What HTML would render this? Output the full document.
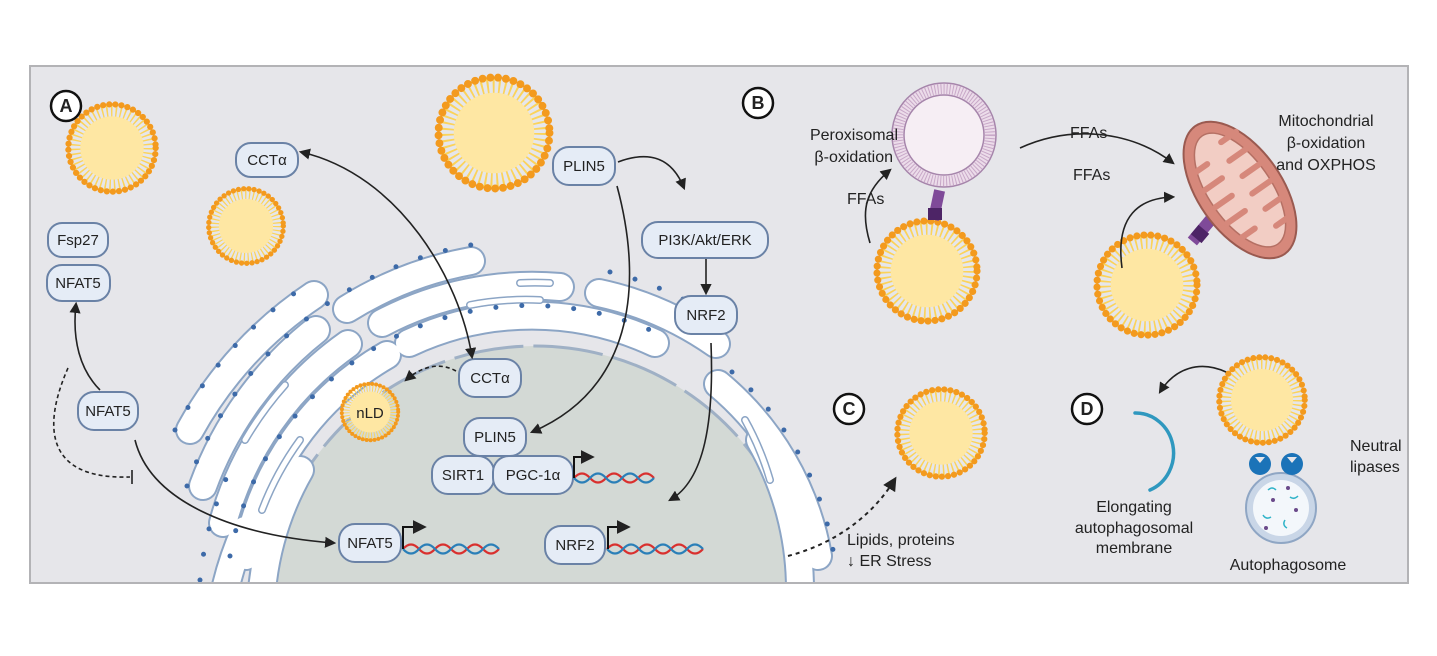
<!DOCTYPE html>
<html><head><meta charset="utf-8"><style>
html,body{margin:0;padding:0;background:#fff;width:1437px;height:656px;overflow:hidden}
svg{display:block}
text{font-family:"Liberation Sans",sans-serif;fill:#222}
</style></head><body>
<svg width="1437" height="656" viewBox="0 0 1437 656" xmlns="http://www.w3.org/2000/svg">
<defs>
<symbol id="ld" viewBox="-50 -50 100 100">
<circle r="39" fill="none" stroke="#fbd35a" stroke-width="14" stroke-dasharray="1.6 3.2"/>
<circle r="33" fill="#fee7a3"/>
<circle r="45.5" fill="none" stroke="#f39a1e" stroke-width="6.5" stroke-linecap="round" stroke-dasharray="0 6.4"/>
</symbol>
<marker id="ah" viewBox="0 0 10 10" refX="8" refY="5" markerWidth="7" markerHeight="7" orient="auto-start-reverse"><path d="M0,0 L10,5 L0,10 z" fill="#222"/></marker>
<clipPath id="pc"><rect x="31" y="67" width="1376" height="515"/></clipPath>
</defs>
<rect x="30" y="66" width="1378" height="517" fill="#e6e6ea" stroke="#b3b3b6" stroke-width="2"/>
<g clip-path="url(#pc)">
<circle cx="535" cy="618" r="272" fill="#d3d9d5" stroke="#9fb0c5" stroke-width="3" stroke-dasharray="70 10"/>
<g fill="none" stroke-linecap="round">
<g stroke="#8ca5c5" stroke-width="30">
<path d="M246,556 A290 290 0 0 1 387,355"/><path d="M409,343 A290 290 0 0 1 655,343"/><path d="M718,384 A290 290 0 0 1 818,556"/>
<path d="M223,523 A322 322 0 0 1 348,344"/><path d="M382,323 A322 322 0 0 1 560,287"/><path d="M599,293 A322 322 0 0 1 716,344"/>
<path d="M203,486 A354 354 0 0 1 316,330"/><path d="M347,309 A354 354 0 0 1 471,261"/>
<path d="M190,430 A386 386 0 0 1 314,295"/>
<path d="M262,590 A300 300 0 0 1 300,470"/><path d="M760,440 A300 300 0 0 1 800,590"/>
<path d="M225,590 A330 330 0 0 1 245,530"/>
</g>
<g stroke="#fff" stroke-width="26">
<path d="M246,556 A290 290 0 0 1 387,355"/><path d="M409,343 A290 290 0 0 1 655,343"/><path d="M718,384 A290 290 0 0 1 818,556"/>
<path d="M223,523 A322 322 0 0 1 348,344"/><path d="M382,323 A322 322 0 0 1 560,287"/><path d="M599,293 A322 322 0 0 1 716,344"/>
<path d="M203,486 A354 354 0 0 1 316,330"/><path d="M347,309 A354 354 0 0 1 471,261"/>
<path d="M190,430 A386 386 0 0 1 314,295"/>
<path d="M262,590 A300 300 0 0 1 300,470"/><path d="M760,440 A300 300 0 0 1 800,590"/>
<path d="M225,590 A330 330 0 0 1 245,530"/>
</g>
<g stroke="#8ca5c5" stroke-width="8">
<path d="M262,510 A300 300 0 0 1 300,440"/><path d="M470,305 A300 300 0 0 1 540,300"/><path d="M245,440 A340 340 0 0 1 285,385"/><path d="M745,420 A290 290 0 0 1 770,480"/><path d="M520,283 A322 322 0 0 1 550,283"/>
</g>
<g stroke="#fff" stroke-width="5">
<path d="M262,510 A300 300 0 0 1 300,440"/><path d="M470,305 A300 300 0 0 1 540,300"/><path d="M245,440 A340 340 0 0 1 285,385"/><path d="M745,420 A290 290 0 0 1 770,480"/><path d="M520,283 A322 322 0 0 1 550,283"/>
</g>
<g stroke="#3d6aa8" stroke-width="5" stroke-dasharray="0 26">
<path d="M230,556 A305 305 0 0 1 650,330"/><path d="M187,486 A370 370 0 0 1 471,245"/><path d="M175,430 A402 402 0 0 1 314,280"/>
<path d="M610,272 A338 338 0 0 1 735,332"/><path d="M732,372 A305 305 0 0 1 834,556"/><path d="M200,580 A340 340 0 0 1 230,470"/>
</g>
</g>
</g>
<use href="#ld" x="64" y="100" width="96" height="96"/>
<use href="#ld" x="205" y="185" width="82" height="82"/>
<use href="#ld" x="433" y="72" width="122" height="122"/>
<use href="#ld" x="339" y="381" width="62" height="62"/>
<use href="#ld" x="872" y="216" width="110" height="110"/>
<use href="#ld" x="1092" y="230" width="110" height="110"/>
<use href="#ld" x="893" y="385" width="96" height="96"/>
<use href="#ld" x="1215" y="353" width="94" height="94"/>
<text x="370" y="418" font-size="15" text-anchor="middle">nLD</text>
<g fill="#e5ecf6" stroke="#6a82a6" stroke-width="2">
<rect x="236" y="143" width="62" height="34" rx="15"/>
<rect x="553" y="147" width="62" height="38" rx="16"/>
<rect x="642" y="222" width="126" height="36" rx="16"/>
<rect x="675" y="296" width="62" height="38" rx="16"/>
<rect x="48" y="223" width="60" height="34" rx="14"/>
<rect x="47" y="265" width="63" height="36" rx="15"/>
<rect x="78" y="392" width="60" height="38" rx="16"/>
<rect x="459" y="359" width="62" height="38" rx="16"/>
<rect x="464" y="418" width="62" height="38" rx="16"/>
<rect x="432" y="456" width="62" height="38" rx="16"/>
<rect x="493" y="456" width="80" height="38" rx="16"/>
<rect x="339" y="524" width="62" height="38" rx="16"/>
<rect x="545" y="526" width="60" height="38" rx="16"/>
</g>
<g font-size="15" text-anchor="middle">
<text x="267" y="165">CCTα</text>
<text x="584" y="171">PLIN5</text>
<text x="705" y="245">PI3K/Akt/ERK</text>
<text x="706" y="320">NRF2</text>
<text x="78" y="245">Fsp27</text>
<text x="78" y="288">NFAT5</text>
<text x="108" y="416">NFAT5</text>
<text x="490" y="383">CCTα</text>
<text x="495" y="442">PLIN5</text>
<text x="463" y="480">SIRT1</text>
<text x="533" y="480">PGC-1α</text>
<text x="370" y="548">NFAT5</text>
<text x="575" y="550">NRF2</text>
</g>
<g fill="none" stroke-width="2.2">
<path d="M574,478 q8,-9 16,0 t16,0 t16,0 t16,0 t16,0" stroke="#d9302e"/>
<path d="M574,478 q8,9 16,0 t16,0 t16,0 t16,0 t16,0" stroke="#2a7fb8"/>
<path d="M403,549 q8,-9 16,0 t16,0 t16,0 t16,0 t16,0 t16,0" stroke="#d9302e"/>
<path d="M403,549 q8,9 16,0 t16,0 t16,0 t16,0 t16,0 t16,0" stroke="#2a7fb8"/>
<path d="M607,549 q8,-9 16,0 t16,0 t16,0 t16,0 t16,0 t16,0" stroke="#d9302e"/>
<path d="M607,549 q8,9 16,0 t16,0 t16,0 t16,0 t16,0 t16,0" stroke="#2a7fb8"/>
</g>
<g fill="none" stroke="#111" stroke-width="2" marker-end="url(#ah)">
<path d="M574,478 V457 H592"/><path d="M403,549 V527 H424"/><path d="M608,549 V527 H628"/>
</g>
<g fill="none" stroke="#222" stroke-width="1.6">
<path d="M301,152 C 400,175 460,280 472,357" marker-end="url(#ah)" marker-start="url(#ah)"/>
<path d="M618,162 C 650,150 672,158 684,188" marker-end="url(#ah)"/>
<path d="M617,186 C 645,290 630,390 532,432" marker-end="url(#ah)"/>
<path d="M706,259 L706,293" marker-end="url(#ah)"/>
<path d="M711,343 C 714,420 705,480 670,500" marker-end="url(#ah)"/>
<path d="M456,371 C 440,362 422,366 406,380" stroke-dasharray="4 3" marker-end="url(#ah)"/>
<path d="M100,390 C 80,370 72,340 76,304" marker-end="url(#ah)"/>
<path d="M135,440 C 150,500 230,535 334,543" marker-end="url(#ah)"/>
<path d="M68,368 C 45,420 40,480 130,477" stroke-dasharray="4 3"/>
<path d="M132,470 L132,484"/>
<path d="M788,556 C 830,545 870,520 895,479" stroke-dasharray="4 4" stroke-width="2" marker-end="url(#ah)"/>
<path d="M870,243 C 860,210 866,190 890,170" marker-end="url(#ah)"/>
<path d="M1020,148 C 1070,125 1130,130 1173,163" marker-end="url(#ah)"/>
<path d="M1122,268 C 1115,215 1140,198 1173,197" marker-end="url(#ah)"/>
<path d="M1226,372 C 1200,360 1175,368 1160,392" marker-end="url(#ah)"/>
</g>
<g fill="#fff" stroke="#111" stroke-width="2.5">
<circle cx="66" cy="106" r="15"/><circle cx="758" cy="103" r="15"/><circle cx="849" cy="409" r="15"/><circle cx="1087" cy="409" r="15"/>
</g>
<g font-size="18" font-weight="bold" text-anchor="middle">
<text x="66" y="112">A</text><text x="758" y="109">B</text><text x="849" y="415">C</text><text x="1087" y="415">D</text>
</g>
<rect x="931" y="190" width="11" height="30" fill="#7f4a99" transform="rotate(12 936 205)"/>
<rect x="928" y="208" width="14" height="12" fill="#4d2466"/>
<circle cx="944" cy="135" r="52" fill="#ecdcea" stroke="#a685ab" stroke-width="1.5"/>
<circle cx="944" cy="135" r="40" fill="#f6eef4" stroke="#a685ab" stroke-width="1.5"/>
<circle cx="944" cy="135" r="46" fill="none" stroke="#c8a8c8" stroke-width="10" stroke-dasharray="1 2"/>
<rect x="1196" y="215" width="12" height="30" fill="#7f4a99" transform="rotate(40 1202 230)"/>
<rect x="1193" y="228" width="14" height="12" fill="#4d2466" transform="rotate(40 1200 234)"/>
<g transform="rotate(55 1240 190)">
<ellipse cx="1240" cy="190" rx="78" ry="42" fill="#d6887b" stroke="#9a5a50" stroke-width="2"/>
<ellipse cx="1240" cy="190" rx="66" ry="31" fill="#f2cdc4" stroke="#b57064" stroke-width="1.5"/>
<g stroke="#d6887b" stroke-width="6" stroke-linecap="round">
<path d="M1190,160 v18 M1210,160 v22 M1230,160 v20 M1250,160 v22 M1270,160 v20 M1290,165 v16 M1200,220 v-18 M1220,220 v-22 M1240,220 v-20 M1260,220 v-22 M1280,218 v-18"/>
</g>
</g>
<g font-size="16">
<text x="898" y="140" text-anchor="end">Peroxisomal</text>
<text x="893" y="162" text-anchor="end">β-oxidation</text>
<text x="847" y="204">FFAs</text>
<text x="1070" y="138">FFAs</text>
<text x="1073" y="180">FFAs</text>
<text x="1326" y="126" text-anchor="middle">Mitochondrial</text>
<text x="1326" y="148" text-anchor="middle">β-oxidation</text>
<text x="1326" y="170" text-anchor="middle">and OXPHOS</text>
<text x="847" y="545">Lipids, proteins</text>
<text x="847" y="566">↓ ER Stress</text>
<text x="1134" y="512" text-anchor="middle">Elongating</text>
<text x="1134" y="533" text-anchor="middle">autophagosomal</text>
<text x="1134" y="553" text-anchor="middle">membrane</text>
<text x="1288" y="570" text-anchor="middle">Autophagosome</text>
<text x="1350" y="451">Neutral</text>
<text x="1350" y="472">lipases</text>
</g>
<path d="M1135,413 A38 40 0 0 1 1150,490" fill="none" stroke="#2f98bf" stroke-width="3.5" stroke-linecap="round"/>
<circle cx="1281" cy="508" r="35" fill="#c9d6e7" stroke="#8fa6c4" stroke-width="2"/>
<circle cx="1281" cy="508" r="28" fill="#f3f7fb"/>
<g fill="none" stroke="#2fb3c8" stroke-width="1.5"><path d="M1268,490 q4,-4 8,0"/><path d="M1263,515 q3,5 8,2"/><path d="M1290,497 q4,3 8,-1"/><path d="M1285,520 q-3,5 2,8"/></g>
<g fill="#6a4a8a"><circle cx="1273" cy="500" r="2"/><circle cx="1296" cy="510" r="2"/><circle cx="1266" cy="528" r="2"/><circle cx="1288" cy="488" r="2"/></g>
<circle cx="1260" cy="464" r="11" fill="#1b73b8"/><circle cx="1292" cy="464" r="11" fill="#1b73b8"/>
<path d="M1255,457 l5,6 l5,-6 z M1287,457 l5,6 l5,-6 z" fill="#e6e6ea"/>
</svg>
</body></html>
